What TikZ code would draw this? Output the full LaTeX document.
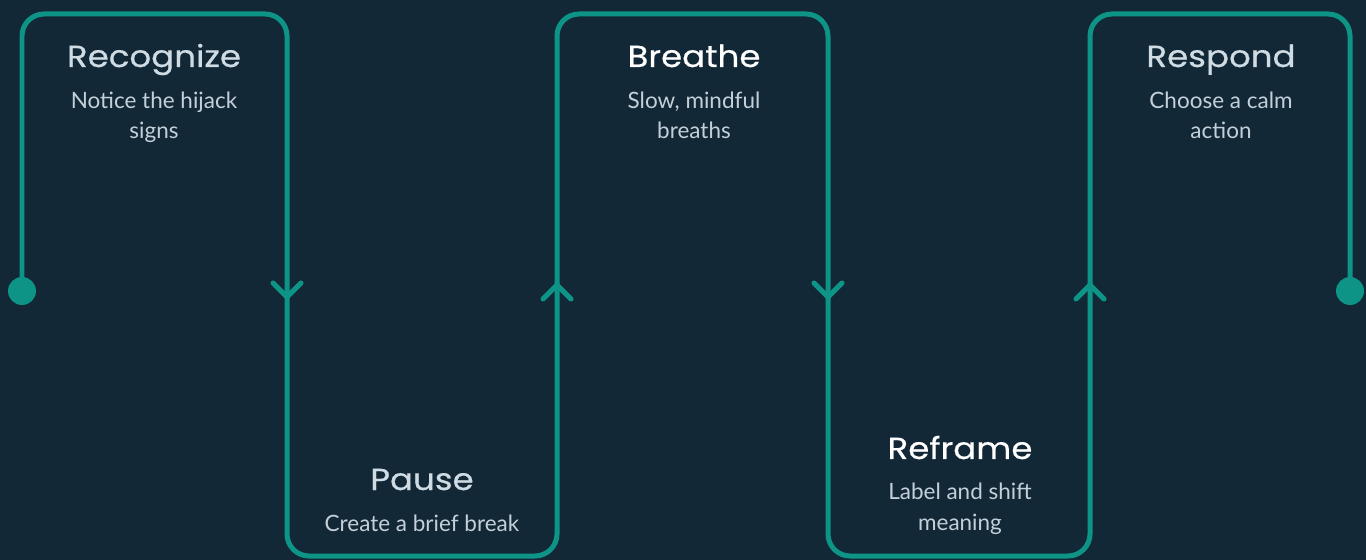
\documentclass[tikz,border=0pt]{standalone}
\usepackage{fontspec}
\setmainfont{Lato}
\newfontfamily\headfont[FakeStretch=1.12,FakeBold=0.5]{Poppins}
\usetikzlibrary{calc}

\definecolor{loopBg}{HTML}{132836}
\definecolor{loopTeal}{HTML}{0E9486}
\definecolor{loopHead}{HTML}{CFDCE4}
\definecolor{loopText}{HTML}{C3D0D9}

\tikzset{
  flow/.style={draw=loopTeal,line width=0.1cm,rounded corners=0.44cm},
  tip/.style={draw=loopTeal,line width=0.1cm,line cap=round,line join=round},
  enddot/.style={circle,fill=loopTeal,minimum size=0.56cm,inner sep=0pt},
  stephead/.style={inner sep=0pt,anchor=base,text=loopHead,
    font=\headfont\fontsize{17.3}{20}\selectfont},
  stepbody/.style={inner sep=0pt,anchor=base,align=center,text=loopText,
    font=\fontsize{12.8}{17.6}\selectfont},
}

\begin{document}
\begin{tikzpicture}[x=0.02cm,y=-0.02cm]
  \fill[loopBg] (0,0) rectangle (1366,560);
  \useasboundingbox (0,0) rectangle (1366,560);

  % corners of the loop
  \coordinate (t1) at (22,14);
  \coordinate (t2) at (287,14);
  \coordinate (b2) at (287,556);
  \coordinate (b3) at (557,556);
  \coordinate (t3) at (557,14);
  \coordinate (t4) at (828,14);
  \coordinate (b4) at (828,556);
  \coordinate (b5) at (1090,556);
  \coordinate (t5) at (1090,14);
  \coordinate (t6) at (1350,14);

  \node[enddot] (start) at (22,291) {};
  \node[enddot] (finish) at (1350,291) {};

  \draw[flow] (start.center) -- (t1) -- (t2) -- (b2) -- (b3) -- (t3) -- (t4)
    -- (b4) -- (b5) -- (t5) -- (t6) -- (finish.center);

  % arrow tips on the verticals
  \coordinate (down1) at (287,297);
  \coordinate (up1) at (557,285);
  \coordinate (down2) at (828,297);
  \coordinate (up2) at (1090,285);
  \draw[tip] ($(down1)+(-14,-14)$) -- (down1) -- ($(down1)+(14,-14)$);
  \draw[tip] ($(down2)+(-14,-14)$) -- (down2) -- ($(down2)+(14,-14)$);
  \draw[tip] ($(up1)+(-14,14)$) -- (up1) -- ($(up1)+(14,14)$);
  \draw[tip] ($(up2)+(-14,14)$) -- (up2) -- ($(up2)+(14,14)$);

  % steps (two-line texts sit on their last baseline)
  \node[stephead] (recognize) at (154,67) {Recognize};
  \node[stepbody] (recognize-txt) at (154,139) {Notice the hijack\\signs};
  \node[stephead] (pause) at (422,490) {Pause};
  \node[stepbody] (pause-txt) at (422,531) {Create a brief break};
  \node[stephead,text=white] (breathe) at (694,67) {Breathe};
  \node[stepbody] (breathe-txt) at (694,139) {Slow, mindful\\breaths};
  \node[stephead,text=white] (reframe) at (960,459) {Reframe};
  \node[stepbody] (reframe-txt) at (960,530) {Label and shift\\meaning};
  \node[stephead] (respond) at (1221,67) {Respond};
  \node[stepbody] (respond-txt) at (1221,139) {Choose a calm\\action};
\end{tikzpicture}
\end{document}
